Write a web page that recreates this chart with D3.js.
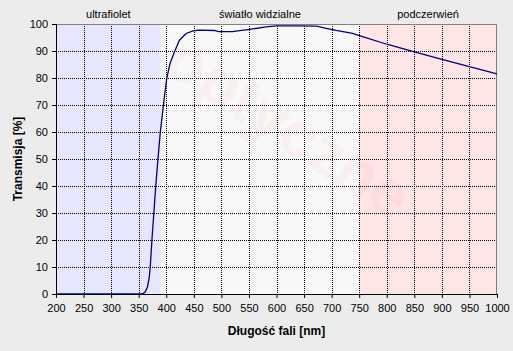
<!DOCTYPE html>
<html>
<head>
<meta charset="utf-8">
<script src="https://cdn.jsdelivr.net/npm/d3@7"></script>
<style>
  body { margin: 0; background: #ececec; }
  svg { display: block; font-family: "Liberation Sans", Arial, sans-serif; }
</style>
</head>
<body>
<svg id="chart" width="513" height="351"></svg>
<script>
// wavelength [nm] and transmission [%]
const wavelength = [200, 350, 357, 362, 366, 369, 371, 374, 377.5, 381, 384.8, 389, 393.8, 396, 401, 407, 415, 424, 436, 450, 460, 487, 495, 520, 551, 581, 600, 640, 673, 690, 708, 738, 756, 800, 850, 900, 950, 1000];
const transmission = [0, 0, 0, 0.8, 2.7, 6, 10, 20, 30, 40, 49.6, 59.5, 68, 72, 80, 85.5, 89.7, 94, 96.5, 97.5, 97.7, 97.6, 97.2, 97.2, 98, 98.9, 99.3, 99.3, 99.2, 98.4, 97.6, 96.5, 95.3, 92.5, 89.7, 86.9, 84.2, 81.5];

const bands = [
  { name: "ultrafiolet", from: 200, to: 390, fill: "#e6e6ff" },
  { name: "światło widzialne", from: 390, to: 750, fill: "#f8f8f8" },
  { name: "podczerwień", from: 750, to: 1000, fill: "#ffe5e5" }
];

const xTicks = d3.range(200, 1001, 50);
const yTicks = d3.range(0, 101, 10);

const svg = d3.select("#chart");
const margin = { top: 24, right: 16, bottom: 57, left: 56 };
const w = 513 - margin.left - margin.right;
const h = 351 - margin.top - margin.bottom;

const x = d3.scaleLinear().domain([200, 1000]).range([0, w]).nice();
const y = d3.scaleLinear().domain([0, 100]).range([h, 0]);
const px = v => Math.round(x(v)) + 0.5;
const py = v => Math.round(y(v)) + 0.5;

const g = svg.append("g").attr("transform", `translate(${margin.left},${margin.top})`);

// coloured spectral bands
g.selectAll("rect.band")
  .data(bands)
  .enter()
  .append("rect")
  .attr("class", "band")
  .attr("x", d => x(d.from))
  .attr("y", 0)
  .attr("width", d => x(d.to) - x(d.from))
  .attr("height", h)
  .attr("fill", d => d.fill);

// faint watermark
g.append("text")
  .attr("transform", `translate(${w * 0.5},${h * 0.45}) rotate(33)`)
  .attr("text-anchor", "middle")
  .attr("font-size", 64)
  .attr("font-weight", "bold")
  .attr("fill", "#ff0000")
  .attr("fill-opacity", 0.035)
  .text("optyczne");

// band names above the plot
g.selectAll("text.band")
  .data(bands)
  .enter()
  .append("text")
  .attr("class", "band")
  .attr("x", d => (x(d.from) + x(d.to)) / 2)
  .attr("y", -6)
  .attr("text-anchor", "middle")
  .attr("font-size", 11)
  .attr("fill", "#000")
  .text(d => d.name);

// dotted grid
g.selectAll("line.vgrid")
  .data(xTicks.slice(1, -1))
  .enter()
  .append("line")
  .attr("x1", px).attr("x2", px)
  .attr("y1", 0).attr("y2", h)
  .attr("stroke", "#000")
  .attr("shape-rendering", "crispEdges")
  .attr("stroke-dasharray", "1,1");

g.selectAll("line.hgrid")
  .data(yTicks.slice(1, -1))
  .enter()
  .append("line")
  .attr("x1", 0).attr("x2", w)
  .attr("y1", py).attr("y2", py)
  .attr("stroke", "#000")
  .attr("shape-rendering", "crispEdges")
  .attr("stroke-dasharray", "1,1");

// top/right frame
g.append("path")
  .attr("d", `M0,0.5H${w - 0.5}V${h}`)
  .attr("fill", "none")
  .attr("stroke", "#808080");

// transmission curve
const line = d3.line()
  .x((d, i) => x(wavelength[i]))
  .y(d => y(d));

g.append("path")
  .datum(transmission)
  .attr("d", line)
  .attr("fill", "none")
  .attr("stroke", "#000080")
  .attr("stroke-width", 1.3);

// axes
const xAxis = g.append("g")
  .attr("transform", `translate(0,${h})`)
  .call(d3.axisBottom(x).tickValues(xTicks).tickSize(4).tickPadding(6).tickFormat(d3.format("d")));

const yAxis = g.append("g")
  .call(d3.axisLeft(y).tickValues(yTicks).tickSize(4).tickPadding(4).tickFormat(d3.format("d")));

[xAxis, yAxis].forEach(a => {
  a.select(".domain").attr("stroke", "#000");
  a.selectAll(".tick line").attr("stroke", "#000");
  a.selectAll(".tick text")
    .attr("font-size", 11)
    .attr("font-family", "'Liberation Sans', Arial, sans-serif")
    .attr("fill", "#000");
});

// axis titles
svg.append("text")
  .attr("x", margin.left + w / 2)
  .attr("y", 335)
  .attr("text-anchor", "middle")
  .attr("font-size", 12)
  .attr("font-weight", "bold")
  .text("Długość fali [nm]");

svg.append("text")
  .attr("transform", `translate(22,${margin.top + h / 2}) rotate(-90)`)
  .attr("text-anchor", "middle")
  .attr("font-size", 12)
  .attr("font-weight", "bold")
  .text("Transmisja [%]");
</script>
</body>
</html>
